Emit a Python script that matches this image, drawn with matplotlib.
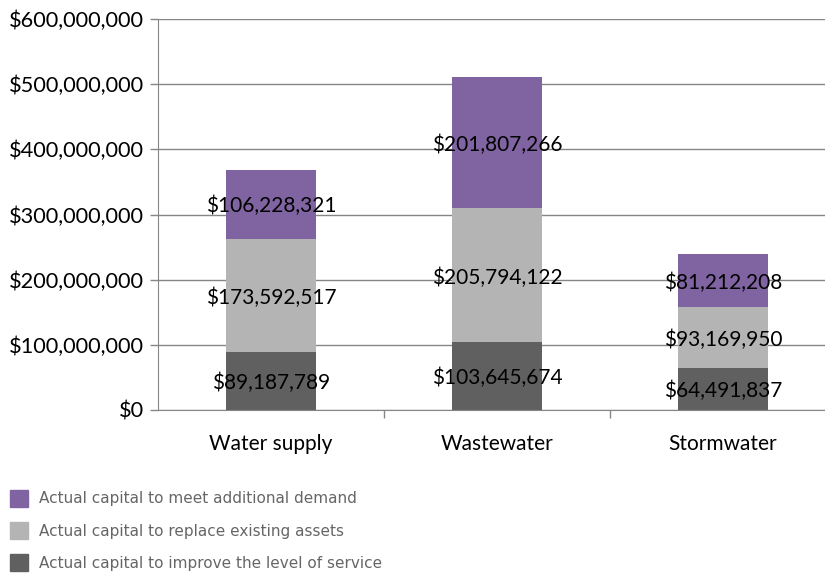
import numpy as np
import matplotlib.pyplot as plt
from matplotlib.ticker import FuncFormatter, FixedLocator
from matplotlib.patches import Patch

categories = ['Water supply', 'Wastewater', 'Stormwater']
improve = [89187789, 103645674, 64491837]
replace = [173592517, 205794122, 93169950]
demand = [106228321, 201807266, 81212208]
seriesNames = ['Actual capital to meet additional demand',
               'Actual capital to replace existing assets',
               'Actual capital to improve the level of service']
colours = ['#8064A2', '#B4B4B4', '#606060']

plt.rcParams['font.family'] = ['Lato', 'DejaVu Sans']

fig = plt.figure(figsize=(8.25, 5.73), dpi=100)
# axes run a little past the right edge, as in the original
ax = fig.add_axes([158/825, 1 - 410/573, 678/825, 391/573])

x = np.arange(len(categories))
w = 0.4
improve = np.array(improve)
replace = np.array(replace)
demand = np.array(demand)

segments = [(improve, 0, colours[2]),
            (replace, improve, colours[1]),
            (demand, improve + replace, colours[0])]
for vals, base, c in segments:
    ax.bar(x, vals, w, bottom=base, color=c, zorder=2)
    for xi, v, b in zip(x, vals, np.broadcast_to(base, vals.shape)):
        ax.annotate(f'${v:,.0f}', (xi, b + v/2), xytext=(0, -1.5), textcoords='offset points',
                    ha='center', va='center', fontsize=15, color='black', zorder=3)

ax.set_xlim(-0.5, 2.5)
ax.set_ylim(0, 600000000)
ax.set_yticks(np.arange(0, 600000001, 100000000))
ax.yaxis.set_major_formatter(FuncFormatter(lambda v, p: f'${v:,.0f}'))
ax.yaxis.grid(True, color='#868686', linewidth=1, zorder=0)
ax.set_axisbelow(True)

ax.set_xticks(x)
ax.set_xticklabels(categories)
ax.tick_params(axis='x', length=0, pad=17, labelsize=15)
ax.xaxis.set_minor_locator(FixedLocator([0.5, 1.5]))
ax.tick_params(axis='x', which='minor', length=6, color='#868686', width=1)
ax.tick_params(axis='y', length=6, color='#868686', width=1, labelsize=15.7, pad=4)

for s in ['top', 'right']:
    ax.spines[s].set_visible(False)
for s in ['left', 'bottom']:
    ax.spines[s].set_color('#868686')

handles = [Patch(color=c) for c in colours]
fig.legend(handles, seriesNames, loc='upper left', bbox_to_anchor=(10/825, 1 - 490/573),
           frameon=False, prop={'family': 'DejaVu Sans', 'size': 11}, labelcolor='#666666',
           handlelength=1.2, handleheight=1.3, labelspacing=1.02, handletextpad=0.7,
           borderaxespad=0, borderpad=0)

fig.savefig('out.png', dpi=100)
